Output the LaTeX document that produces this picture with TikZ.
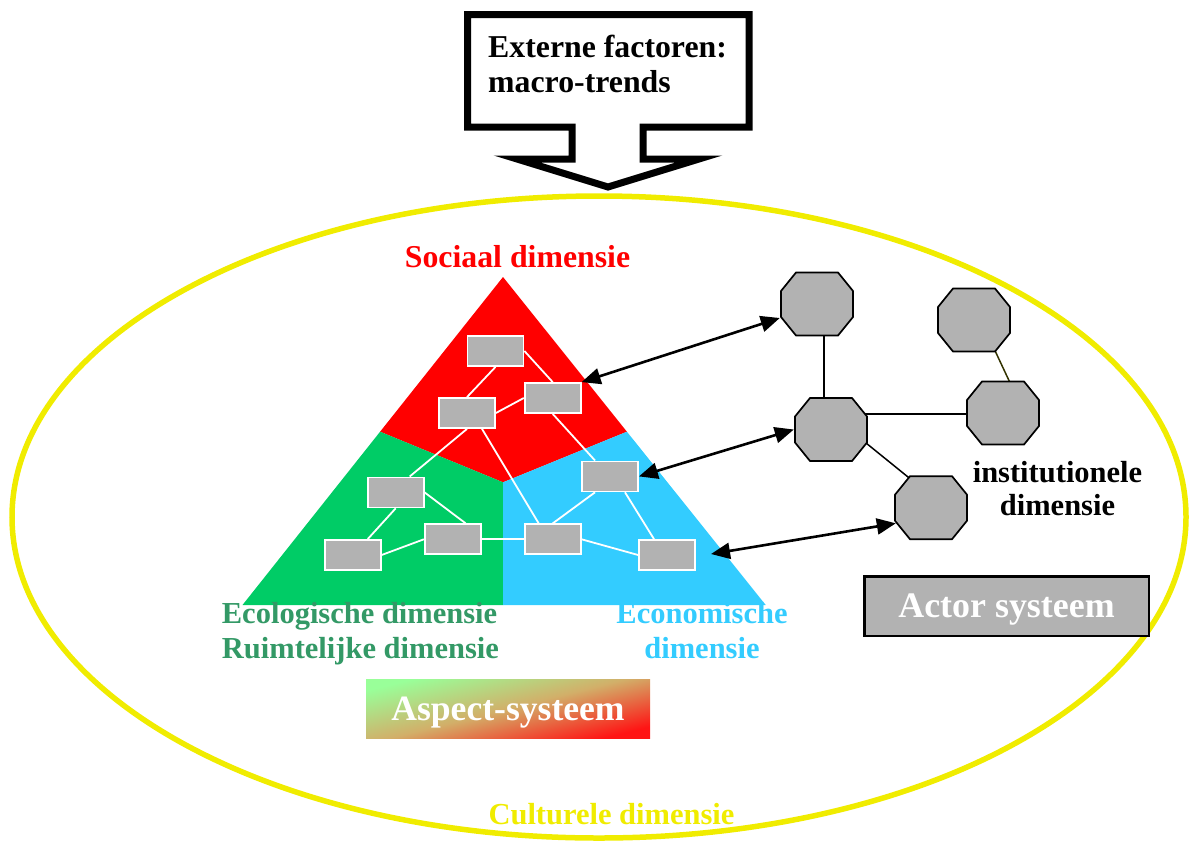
\documentclass[tikz,border=0pt]{standalone}
\usepackage{fontspec}
\setmainfont{Liberation Serif}
\usetikzlibrary{arrows.meta,calc}
\pgfdeclarelayer{background}
\pgfsetlayers{background,main}
\definecolor{soc}{RGB}{255,0,0}
\definecolor{eco}{RGB}{0,204,102}
\definecolor{econ}{RGB}{51,204,255}
\definecolor{boxg}{RGB}{178,178,178}
\definecolor{ecotext}{RGB}{51,153,102}
\definecolor{yel}{RGB}{240,236,0}
\definecolor{olive}{RGB}{51,51,0}
\definecolor{aspgreen}{RGB}{153,255,153}
\definecolor{aspmid}{RGB}{210,175,105}
\definecolor{aspred}{RGB}{255,20,20}
\begin{document}
\begin{tikzpicture}[x=1pt,y=-1pt,
  gbox/.style={rectangle, draw=white, line width=1.8pt, fill=boxg,
    minimum width=56pt, minimum height=30pt, inner sep=0pt},
  wline/.style={white, line width=1.8pt},
  oct/.style={rectangle, inner sep=0pt, minimum width=74pt, minimum height=65pt,
    path picture={\draw[fill=boxg, line width=1.7pt, line join=miter]
      ([xshift=16pt,yshift=-1pt]path picture bounding box.north west) --
      ([xshift=-16pt,yshift=-1pt]path picture bounding box.north east) --
      ([xshift=-1pt,yshift=-19.5pt]path picture bounding box.north east) --
      ([xshift=-1pt,yshift=19.5pt]path picture bounding box.south east) --
      ([xshift=-16pt,yshift=1pt]path picture bounding box.south east) --
      ([xshift=16pt,yshift=1pt]path picture bounding box.south west) --
      ([xshift=1pt,yshift=19.5pt]path picture bounding box.south west) --
      ([xshift=1pt,yshift=-19.5pt]path picture bounding box.north west) -- cycle;}},
  octline/.style={black, line width=1.5pt},
  dblarrow/.style={line width=2.6pt,
    {Triangle[length=19pt,width=16pt]}-{Triangle[length=19pt,width=16pt]}},
  lbl/.style={inner sep=0pt, anchor=base},
  lblw/.style={inner sep=0pt, anchor=base west},
  fa/.style={font=\fontsize{30.5}{35}\selectfont\bfseries},
]
\useasboundingbox (0,0) rectangle (1190,841);

% cultural ellipse
\draw[yel, line width=5.5pt] (599,517) ellipse [x radius=587, y radius=321];

% external factors callout
\draw[line width=7pt, line join=miter, fill=white]
  (467.5,14.5) -- (749,14.5) -- (749,127) -- (643,127) -- (643,159) -- (699,159)
  -- (608,187) -- (517,159) -- (572,159) -- (572,127) -- (467.5,127) -- cycle;
\node[lblw, font=\fontsize{31.8}{35}\selectfont\bfseries] (ext1) at (488,57) {Externe factoren:};
\node[lblw, font=\fontsize{31.8}{35}\selectfont\bfseries] (ext2) at (488,92) {macro-trends};

% triangle
\fill[soc] (503,277) -- (626.9,431.7) -- (503,482.3) -- (380.1,431.7) -- cycle;
\fill[eco] (380.1,431.7) -- (503,482.3) -- (503,605) -- (242.5,605) -- cycle;
\fill[econ] (626.9,431.7) -- (765.7,605) -- (503,605) -- (503,482.3) -- cycle;

% aspect boxes
\node[gbox] (b1) at (495.5,351) {};
\node[gbox] (b2) at (552.7,398) {};
\node[gbox] (b3) at (467,413) {};
\node[gbox] (b4) at (610,476.4) {};
\node[gbox] (b5) at (395.7,492.4) {};
\node[gbox] (b6) at (452.7,539.3) {};
\node[gbox] (b7) at (552.7,539.3) {};
\node[gbox] (b8) at (352.7,555) {};
\node[gbox] (b9) at (667,555) {};

\draw[wline] (b1.south) -- (b3.north);
\draw[wline] (b1.east) -- (b2.north);
\draw[wline] (b3.east) -- (b2.west);
\draw[wline] (b3.south) -- ($(b5.north)+(14,0)$);
\draw[wline] ($(b3.south)+(15,0)$) -- ($(b7.north)+(-14,0)$);
\draw[wline] (b2.south) -- ($(b4.north)+(-15,0)$);
\draw[wline] (b5.east) -- ($(b6.north)+(13,0)$);
\draw[wline] (b5.south) -- ($(b8.north)+(15,0)$);
\draw[wline] (b8.east) -- (b6.west);
\draw[wline] (b6.east) -- (b7.west);
\draw[wline] ($(b4.south)+(-15,0)$) -- (b7.north);
\draw[wline] ($(b4.south)+(15,0)$) -- ($(b9.north)+(-13,0)$);
\draw[wline] (b7.east) -- (b9.west);

% actor octagons
\node[oct] (o1) at (817,304) {};
\node[oct] (o2) at (974,320) {};
\node[oct] (o3) at (831,429.5) {};
\node[oct] (o4) at (1003,413) {};
\node[oct] (o5) at (931,507.7) {};

\begin{pgfonlayer}{background}
\draw[octline] ($(o1.center)+(7,0)$) -- ($(o3.center)+(-7,0)$);
\draw[octline] ($(o3.center)+(0,-15.5)$) -- ($(o4.center)+(0,1)$);
\draw[octline] ($(o3.center)+(15,-2.7)$) -- ($(o5.center)+(-3,-14.5)$);
\draw[olive, line width=1.5pt] ($(o2.center)+(13.5,14.7)$) -- ($(o4.center)+(14.5,-14.3)$);
\end{pgfonlayer}

% arrows between aspect and actor systems
\coordinate (a3end) at (711,554);
\draw[dblarrow] (b2.north east) -- ($(o1.west)+(0,14)$);
\draw[dblarrow] (b4.east) -- (o3.west);
\draw[dblarrow] (a3end) -- ($(o5.west)+(2,15.6)$);

% labels
\node[lbl, text=soc, font=\fontsize{31.8}{35}\selectfont\bfseries] (soclbl) at (517.5,267) {Sociaal dimensie};
\node[lbl, fa] (inst1) at (1057.5,482) {institutionele};
\node[lbl, fa] (inst2) at (1057.5,515) {dimensie};
\node[lblw, fa, text=ecotext] (eco1) at (221.7,623) {Ecologische dimensie};
\node[lblw, fa, text=ecotext] (eco2) at (221.7,658) {Ruimtelijke dimensie};
\node[lbl, fa, text=econ] (econ1) at (702,623) {Economische};
\node[lbl, fa, text=econ] (econ2) at (702,658) {dimensie};
\node[lbl, fa, text=yel] (cult) at (611.5,824) {Culturele dimensie};

% system boxes
\node[rectangle, inner sep=0pt, minimum width=284pt, minimum height=59pt,
  top color=aspgreen, bottom color=aspred, middle color=aspmid, shading angle=14,
  text=white, text depth=0pt, font=\fontsize{35.6}{40}\selectfont\bfseries]
  (aspect) at (508,708.5) {Aspect-systeem};
\node[rectangle, draw=black, line width=2.5pt, fill=boxg, inner sep=0pt,
  minimum width=284.5pt, minimum height=59.5pt,
  text=white, text depth=0pt, font=\fontsize{35.9}{40}\selectfont\bfseries]
  (actor) at (1006.5,606) {Actor systeem};
\end{tikzpicture}
\end{document}
